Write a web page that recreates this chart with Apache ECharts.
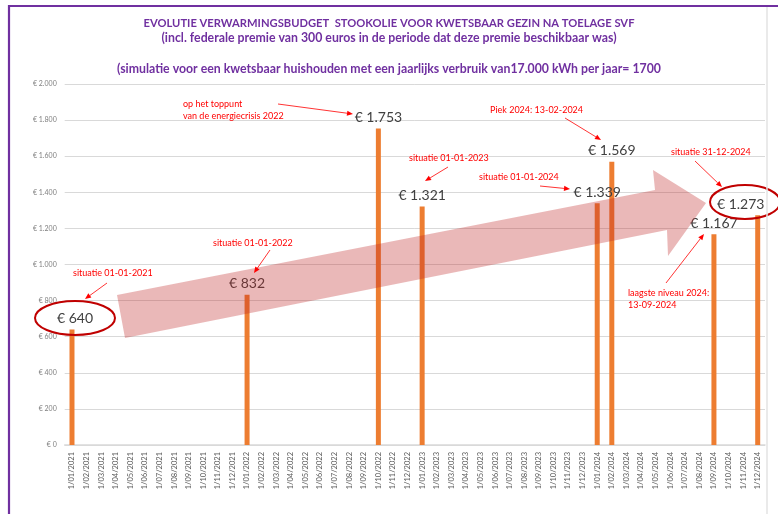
<!DOCTYPE html>
<html>
<head>
<meta charset="utf-8">
<script src="https://cdn.jsdelivr.net/npm/echarts@6/dist/echarts.min.js"></script>
<style>html,body{margin:0;padding:0;background:#fff;}#c{width:778px;height:514px;}</style>
</head>
<body>
<div id="c"></div>
<script>
// ---- data ----
const years = [2021, 2022, 2023, 2024];
const categories = [];
years.forEach(y => { for (let m = 1; m <= 12; m++) categories.push('1/' + (m < 10 ? '0' + m : m) + '/' + y); });
const barDates = ['1/01/2021', '1/01/2022', '1/10/2022', '1/01/2023', '1/01/2024', '1/02/2024', '1/09/2024', '1/12/2024'];
const barValues = [640, 832, 1753, 1321, 1339, 1569, 1167, 1273];
const yTicks = [0, 200, 400, 600, 800, 1000, 1200, 1400, 1600, 1800, 2000];
const titleLines = [
  'EVOLUTIE VERWARMINGSBUDGET  STOOKOLIE VOOR KWETSBAAR GEZIN NA TOELAGE SVF',
  '(incl. federale premie van 300 euros in de periode dat deze premie beschikbaar was)',
  '(simulatie voor een kwetsbaar huishouden met een jaarlijks verbruik van17.000 kWh per jaar= 1700'
];

const fmtEuro = v => '€ ' + String(v).replace(/\B(?=(\d{3})+(?!\d))/g, '.');

const seriesData = categories.map(c => {
  const i = barDates.indexOf(c);
  if (i < 0) return null;
  const item = { value: barValues[i] };
  if (c === '1/12/2024') item.label = { offset: [-17, 0] };
  if (c === '1/01/2021') item.label = { offset: [3, 0] };
  return item;
});

// ---- decorations ----
const RED = '#FF0000';
function arrow(x1, y1, x2, y2) {
  const a = Math.atan2(y2 - y1, x2 - x1), L = 6, W = 2.6;
  const c = Math.cos(a), s = Math.sin(a);
  const bx = x2 - L * c, by = y2 - L * s;
  return [
    { type: 'line', z: 20, shape: { x1: x1, y1: y1, x2: bx, y2: by }, style: { stroke: RED, lineWidth: 0.8 } },
    { type: 'polygon', z: 20, shape: { points: [[x2, y2], [bx - W * s, by + W * c], [bx + W * s, by - W * c]] }, style: { fill: RED } }
  ];
}
function note(x, y, text) {
  return { type: 'text', z: 20, x: x, y: y, style: { text: text, fill: RED, font: '9px Lato', textVerticalAlign: 'middle', lineHeight: 12.5 } };
}

const graphics = [
  // frame
  { type: 'line', z: 30, shape: { x1: 8, y1: 6, x2: 778, y2: 6 }, style: { stroke: '#7030A0', lineWidth: 2.2 } },
  { type: 'line', z: 30, shape: { x1: 9, y1: 5, x2: 9, y2: 514 }, style: { stroke: '#7030A0', lineWidth: 2.2 } },
  { type: 'line', z: 30, shape: { x1: 767, y1: 7, x2: 767, y2: 514 }, style: { stroke: '#E3E3E3', lineWidth: 1.5 } },
  // big trend arrow
  { type: 'polygon', z: 15, shape: { points: [[117, 295], [655, 190], [653, 170], [706, 203], [668, 256], [667, 230], [125, 338]] },
    style: { fill: 'rgba(190,40,40,0.33)' } },
  // ellipses
  { type: 'ellipse', z: 20, shape: { cx: 75, cy: 318, rx: 40, ry: 17 }, style: { fill: 'none', stroke: '#C00000', lineWidth: 2 } },
  { type: 'ellipse', z: 20, shape: { cx: 745, cy: 202, rx: 35, ry: 17 }, style: { fill: 'none', stroke: '#C00000', lineWidth: 2 } },
  // notes
  note(73, 273, 'situatie 01-01-2021'),
  note(213, 243, 'situatie 01-01-2022'),
  note(183, 110, 'op het toppunt\nvan de energiecrisis 2022'),
  note(409, 158, 'situatie 01-01-2023'),
  note(479, 177, 'situatie 01-01-2024'),
  note(490, 110, 'Piek 2024: 13-02-2024'),
  note(671, 152, 'situatie 31-12-2024'),
  note(628, 299, 'laagste niveau 2024:\n13-09-2024'),
  ...arrow(107, 283, 85, 299),
  ...arrow(270, 250, 254, 273),
  ...arrow(278, 104, 353, 114),
  ...arrow(448, 167, 425, 181),
  ...arrow(540, 186, 570, 189),
  ...arrow(565, 118, 601, 140),
  ...arrow(695, 161, 722, 187),
  ...arrow(666, 283, 704, 234)
];

const chart = echarts.init(document.getElementById('c'), null, { renderer: 'canvas' });
chart.setOption({
  animation: false,
  backgroundColor: '#fff',
  title: titleLines.map((t, i) => ({
    text: t, left: 'center', top: [18, 32, 63][i], padding: 0,
    textStyle: { color: '#7030A0', fontFamily: 'Lato', fontWeight: 'bold', fontSize: [11.2, 12.3, 12.3][i] }
  })),
  grid: { left: 64.7, right: 13, top: 84, bottom: 69, containLabel: false },
  xAxis: {
    type: 'category', data: categories,
    axisLine: { lineStyle: { color: '#D9D9D9', width: 1.5 } },
    axisTick: { show: false },
    axisLabel: { interval: 0, rotate: 90, fontSize: 7.5, color: '#595959', fontFamily: 'Lato', margin: 7 }
  },
  yAxis: {
    type: 'value', min: yTicks[0], max: yTicks[yTicks.length - 1], interval: yTicks[1] - yTicks[0],
    axisLine: { show: false }, axisTick: { show: false },
    splitLine: { lineStyle: { color: '#D9D9D9', width: 1 } },
    axisLabel: { formatter: v => fmtEuro(v), fontSize: 7, color: '#7F7F7F', fontFamily: 'Lato', margin: 8 }
  },
  series: [{
    type: 'bar', data: seriesData, barWidth: 5, z: 10,
    itemStyle: { color: '#ED7D31' },
    label: { show: true, position: 'top', distance: 4, formatter: p => fmtEuro(p.value), fontSize: 14, color: '#404040', fontFamily: 'Lato' }
  }],
  graphic: graphics
});
</script>
</body>
</html>
